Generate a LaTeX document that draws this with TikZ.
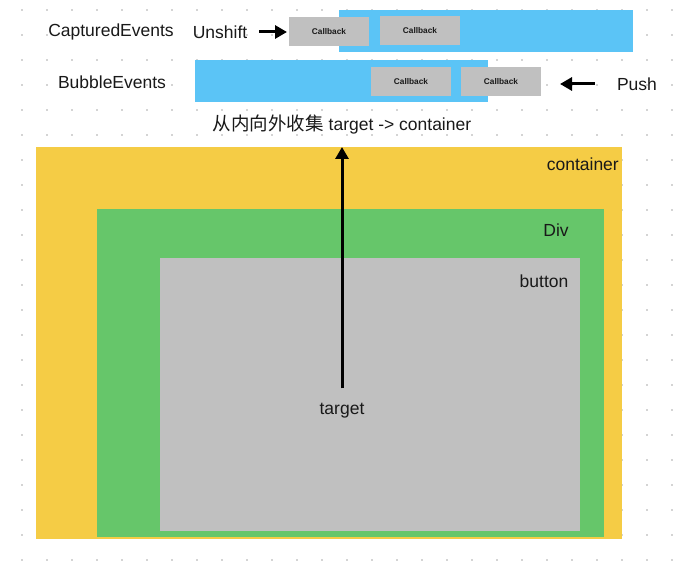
\documentclass[tikz,border=0pt]{standalone}
\usepackage{fontspec}
\setmainfont{Liberation Sans}
\newfontfamily\cjk{Noto Sans CJK SC}
\usetikzlibrary{arrows.meta}

\definecolor{contyellow}{RGB}{245,204,69}
\definecolor{divgreen}{RGB}{102,198,106}
\definecolor{btngray}{RGB}{192,192,192}
\definecolor{queueblue}{RGB}{91,196,246}
\definecolor{dotgray}{RGB}{212,212,212}
\definecolor{inkc}{RGB}{25,25,25}

\tikzset{
    area/.style n args={3}{fill=#1, minimum width=#2, minimum height=#3, inner sep=0pt, outer sep=0pt},
    cbk/.style={fill=btngray, minimum width=80pt, minimum height=29pt, inner sep=0pt, outer sep=0pt,
        text=inkc, font=\fontsize{8.3}{10}\selectfont\bfseries},
    lbl/.style={inner sep=0pt, text=inkc, font=\fontsize{17.5}{21}\selectfont},
    arr/.style={line width=3pt, -{Triangle[length=12pt,width=13pt]}},
}

\begin{document}
\begin{tikzpicture}[x=1pt, y=-1pt]
    \useasboundingbox (0,0) rectangle (677,564);

    % dotted grid
    \foreach \x in {22,47,...,672}
        \foreach \y in {10,35,...,560}
            \fill[dotgray] ({\x-1},{\y-1}) rectangle ({\x+1},{\y+1});

    % queues
    \node[area={queueblue}{294pt}{42pt}] (capq) at (486,31) {};
    \node[cbk] (cb1) at (329,31.5) {Callback};
    \node[cbk] (cb2) at (420,30.5) {Callback};
    \node[area={queueblue}{293pt}{42pt}] (bubq) at (341.5,81) {};
    \node[cbk] (cb3) at (411,81.5) {Callback};
    \node[cbk] (cb4) at (501,81.5) {Callback};

    \node[lbl] (caplbl) at (111,32) {CapturedEvents};
    \node[lbl] (unshift) at (220,32) {Unshift};
    \node[lbl] (bublbl) at (112,82) {BubbleEvents};
    \node[lbl] (push) at (637,84) {Push};
    \node[lbl] (collect) at (342,125) {{\cjk\fontsize{18.5}{21}\selectfont 从内向外收集} target -> container};

    \draw[arr, shorten <=12pt, shorten >=2pt] (unshift.east) -- (unshift.east -| cb1.west);
    \draw[arr, shorten <=22pt, shorten >=19pt] (push.west) -- (push.west -| cb4.east);

    % nested elements
    \node[area={contyellow}{586pt}{392pt}] (container) at (329,343) {};
    \node[area={divgreen}{507pt}{328pt}] (div) at (350.5,373) {};
    \node[area={btngray}{420pt}{273pt}] (button) at (370,394.5) {};

    \node[lbl, anchor=east] (contlbl) at (619,164) {container};
    \node[lbl] (divlbl) at (556,230) {Div};
    \node[lbl] (btnlbl) at (544,281) {button};
    \node[lbl] (target) at (342,411) {target};

    \draw[arr, shorten <=15pt] (target.north) -- (target.north |- container.north);
\end{tikzpicture}
\end{document}
